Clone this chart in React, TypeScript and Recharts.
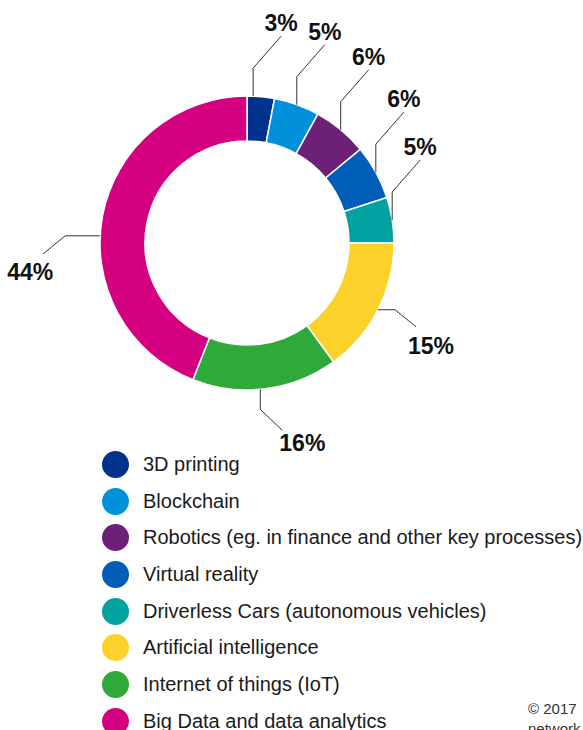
import React from 'react';
import { PieChart, Pie, Cell, Legend } from 'recharts';

const categories = [
  '3D printing',
  'Blockchain',
  'Robotics (eg. in finance and other key processes)',
  'Virtual reality',
  'Driverless Cars (autonomous vehicles)',
  'Artificial intelligence',
  'Internet of things (IoT)',
  'Big Data and data analytics',
];
const shares = [3, 5, 6, 6, 5, 15, 16, 44];
const colors = ['#00338D', '#0091DA', '#6D2077', '#005EB8', '#00A3A1', '#FCD12A', '#2FAA3A', '#D4007F'];
// how each callout leaves the ring, and a small nudge of its anchor (degrees)
const labelKinds = ['up', 'up', 'up', 'up', 'up', 'right', 'down', 'left'];
const labelShift = [3, 0, 0, 0, 0, 0, -2, 8];

const data = categories.map((name, i) => ({ name, value: shares[i] }));

const RAD = Math.PI / 180;

function renderLabel(props: any) {
  const { cx, cy, midAngle, outerRadius, index, value } = props;
  const a = (midAngle + labelShift[index]) * RAD;
  const x0 = cx + outerRadius * Math.cos(-a);
  const y0 = cy + outerRadius * Math.sin(-a);
  let pts: number[][] = [];
  let tx = 0;
  let ty = 0;
  const kind = labelKinds[index];
  if (kind === 'up') {
    pts = [[x0, y0], [x0, y0 - 28], [x0 + 28, y0 - 60]];
    tx = x0 + 28;
    ty = y0 - 65;
  } else if (kind === 'right') {
    pts = [[x0, y0], [x0 + 17, y0], [x0 + 38, y0 + 17]];
    tx = x0 + 53;
    ty = y0 + 44;
  } else if (kind === 'down') {
    pts = [[x0, y0], [x0, y0 + 20], [x0 + 22, y0 + 41]];
    tx = x0 + 42;
    ty = y0 + 62;
  } else {
    pts = [[x0, y0], [x0 - 35, y0], [x0 - 57, y0 + 18]];
    tx = x0 - 70;
    ty = y0 + 44;
  }
  return (
    <g key={'lbl' + index}>
      <polyline
        points={pts.map((p) => p.join(',')).join(' ')}
        fill="none"
        stroke="#333"
        strokeWidth={1}
      />
      <text
        x={tx}
        y={ty}
        textAnchor="middle"
        fontFamily="'Liberation Sans', Arial, sans-serif"
        fontWeight={700}
        fontSize={23}
        fill="#111"
      >
        {value}%
      </text>
    </g>
  );
}

function LegendBox() {
  return (
    <div style={{ position: 'absolute', left: 102, top: 446 }}>
      {categories.map((c, i) => (
        <div key={c} style={{ display: 'flex', alignItems: 'center', height: 36.7 }}>
          <span
            style={{
              width: 27,
              height: 27,
              borderRadius: '50%',
              background: colors[i],
              display: 'inline-block',
              marginRight: 14,
            }}
          />
          <span
            style={{
              fontFamily: "'Liberation Sans', Arial, sans-serif",
              fontSize: 20,
              color: '#1a1a1a',
              whiteSpace: 'nowrap',
            }}
          >
            {c}
          </span>
        </div>
      ))}
    </div>
  );
}

export default function App() {
  return (
    <div style={{ position: 'absolute', left: 0, top: 0, width: 583, height: 730, overflow: 'hidden', background: '#fff' }}>
      <PieChart width={583} height={730} margin={{ top: 0, right: 0, bottom: 0, left: 0 }}>
        <Pie
          data={data}
          dataKey="value"
          nameKey="name"
          cx={247}
          cy={243}
          innerRadius={102}
          outerRadius={147}
          startAngle={90}
          endAngle={-270}
          stroke="#fff"
          strokeWidth={1.5}
          label={renderLabel}
          labelLine={false}
          isAnimationActive={false}
        >
          {data.map((d, i) => (
            <Cell key={d.name} fill={colors[i]} />
          ))}
        </Pie>
        <Legend content={() => null} />
        <text x={528} y={714} fontFamily="'Liberation Sans', Arial, sans-serif" fontSize={15} fill="#333">
          © 2017
        </text>
        <text x={528} y={734} fontFamily="'Liberation Sans', Arial, sans-serif" fontSize={15} fill="#333">
          network
        </text>
      </PieChart>
      <LegendBox />
    </div>
  );
}
